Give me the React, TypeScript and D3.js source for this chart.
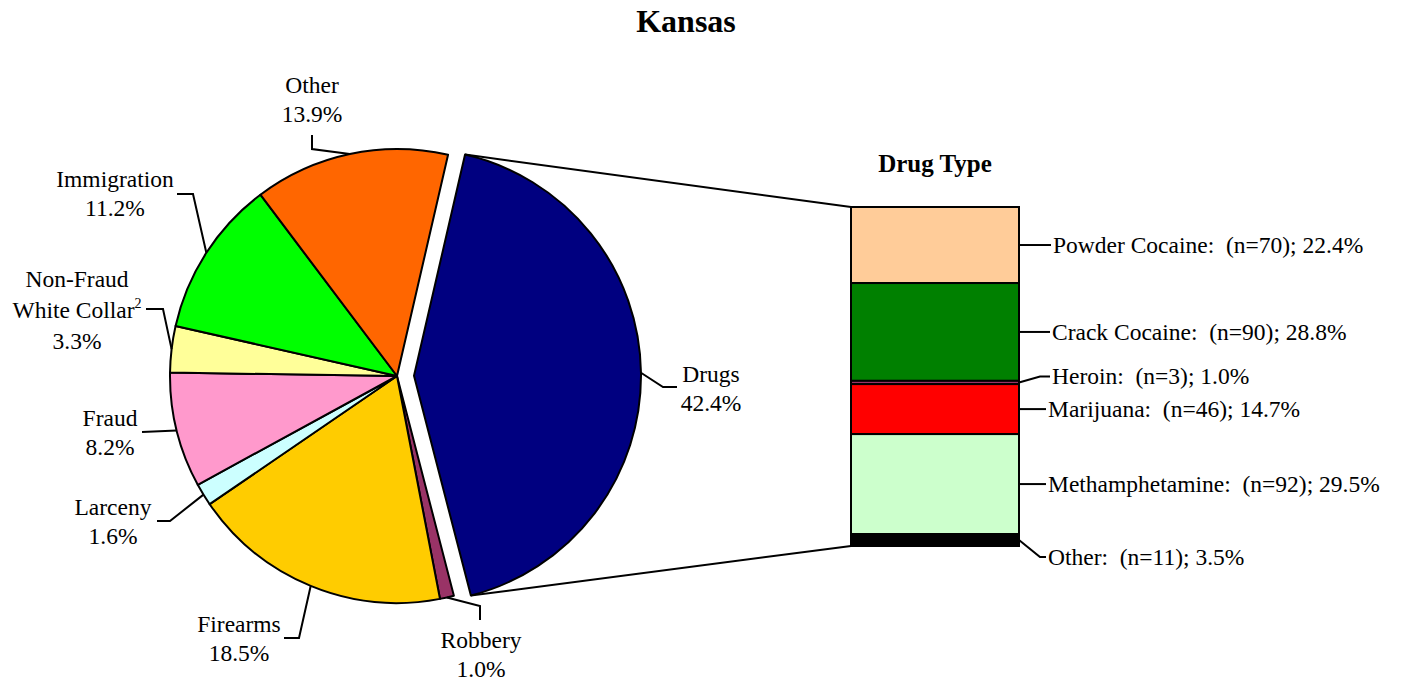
import { arc, pie, scaleLinear } from "d3";

// offense categories (pie), clockwise from the exploded slice
const categories = [
  "Drugs",
  "Robbery",
  "Firearms",
  "Larceny",
  "Fraud",
  "Non-Fraud|White Collar",
  "Immigration",
  "Other",
];
const percents = [42.4, 1.0, 18.5, 1.6, 8.2, 3.3, 11.2, 13.9];
const footnotes = ["", "", "", "", "", "2", "", ""];
const pieColors = ["#000080", "#993366", "#FFCC00", "#CCFFFF", "#FF99CC", "#FFFF99", "#00FF00", "#FF6600"];

// drug types (stacked bar), top to bottom
const drugTypes = ["Powder Cocaine", "Crack Cocaine", "Heroin", "Marijuana", "Methamphetamine", "Other"];
const drugCounts = [70, 90, 3, 46, 92, 11];
const drugPercents = [22.4, 28.8, 1.0, 14.7, 29.5, 3.5];
const drugColors = ["#FFCC99", "#008000", "#993366", "#FF0000", "#CCFFCC", "#000000"];

const FONT = "'Liberation Serif', 'Times New Roman', serif";
const W = 1405;
const H = 682;
const FS = 23.5;

// pie geometry
const cx = 397;
const cy = 376;
const R = 227;
const explode = 17;
const start = (13 * Math.PI) / 180;

// label placement for each pie slice (first baseline + leader elbow points)
const pieLabelLayout = [
  { x: 711, y: 382, pts: [[663, 387], [677, 387]] },
  { x: 481, y: 648, pts: [[480, 606], [480, 620]] },
  { x: 239, y: 632, pts: [[299, 638], [284, 638]] },
  { x: 113, y: 515, pts: [[170, 521], [157, 521]] },
  { x: 110, y: 426, pts: [[142, 432]] },
  { x: 77, y: 287, pts: [[163, 309], [146, 309]] },
  { x: 115, y: 187, pts: [[193, 194], [177, 194]] },
  { x: 312, y: 93, pts: [[312, 149], [312, 135]] },
];

// bar geometry
const barX0 = 851;
const barX1 = 1019;
const barY0 = 207;
const barY1 = 546;
const barLabelX = [1053, 1052, 1052, 1048, 1048, 1048];
const barLabelShift = [0, 0, -6, 0, 0, 17];

export default function App() {
  const arcs = pie<number>()
    .sort(null)
    .value((d) => d)
    .startAngle(start)
    .endAngle(start + 2 * Math.PI)(percents);

  const arcGen = arc<any>().innerRadius(0).outerRadius(R);

  const offset = (a: any, dist: number) => {
    const mid = (a.startAngle + a.endAngle) / 2;
    return [Math.sin(mid) * dist, -Math.cos(mid) * dist];
  };
  const onArc = (ang: number, ox = 0, oy = 0) => [cx + ox + Math.sin(ang) * R, cy + oy - Math.cos(ang) * R];

  const drugArc = arcs[0];
  const [dox, doy] = offset(drugArc, explode);
  const drugTop = onArc(drugArc.startAngle, dox, doy);
  const drugBot = onArc(drugArc.endAngle, dox, doy);

  const total = drugCounts.reduce((s, v) => s + v, 0);
  const y = scaleLinear().domain([0, total]).range([barY0, barY1]);
  let cum = 0;
  const segs = drugCounts.map((n, i) => {
    const s = { i, y0: y(cum), y1: y(cum + n) };
    cum += n;
    return s;
  });

  return (
    <svg width={W} height={H} style={{ position: "absolute", left: 0, top: 0 }} fontFamily={FONT}>
      <rect width={W} height={H} fill="#fff" />
      <text x={686} y={32} textAnchor="middle" fontSize={32} fontWeight="bold">
        Kansas
      </text>

      {/* pie slices */}
      {arcs.map((a, i) => {
        const [ox, oy] = i === 0 ? [dox, doy] : [0, 0];
        return (
          <path
            key={i}
            d={arcGen(a) as string}
            transform={`translate(${cx + ox},${cy + oy})`}
            fill={pieColors[i]}
            stroke="#000"
            strokeWidth={2}
            strokeLinejoin="round"
          />
        );
      })}

      {/* pie leaders and labels */}
      {arcs.map((a, i) => {
        const [ox, oy] = i === 0 ? [dox, doy] : [0, 0];
        const mid = (a.startAngle + a.endAngle) / 2;
        const p0 = onArc(mid, ox, oy);
        const L = pieLabelLayout[i];
        const pts = [p0, ...L.pts];
        const lines = [...categories[i].split("|"), `${percents[i].toFixed(1)}%`];
        const gap = lines.length > 2 ? 31 : 29;
        return (
          <g key={i}>
            <polyline points={pts.map((p) => p.join(",")).join(" ")} fill="none" stroke="#000" strokeWidth={2} />
            <text textAnchor="middle" fontSize={FS}>
              {lines.map((t, k) => (
                <tspan key={k} x={L.x} y={L.y + k * gap}>
                  {t}
                  {k === lines.length - 2 && footnotes[i] ? (
                    <tspan fontSize={14} dy={-10}>
                      {footnotes[i]}
                    </tspan>
                  ) : null}
                </tspan>
              ))}
            </text>
          </g>
        );
      })}

      {/* connectors from drug slice to bar */}
      <line x1={drugTop[0]} y1={drugTop[1]} x2={barX0} y2={barY0} stroke="#000" strokeWidth={2} />
      <line x1={drugBot[0]} y1={drugBot[1]} x2={barX0} y2={barY1} stroke="#000" strokeWidth={2} />

      <text x={935} y={172} textAnchor="middle" fontSize={25} fontWeight="bold">
        Drug Type
      </text>

      {segs.map((s) => (
        <rect
          key={s.i}
          x={barX0}
          y={s.y0}
          width={barX1 - barX0}
          height={s.y1 - s.y0}
          fill={drugColors[s.i]}
          stroke="#000"
          strokeWidth={2}
        />
      ))}

      {segs.map((s) => {
        const m = (s.y0 + s.y1) / 2;
        const ly = m + barLabelShift[s.i];
        const lx = barLabelX[s.i];
        return (
          <g key={s.i}>
            <polyline
              points={`${barX1},${m} ${barX1 + 21},${ly} ${lx - 2},${ly}`}
              fill="none"
              stroke="#000"
              strokeWidth={2}
            />
            <text x={lx} y={ly + 8} fontSize={FS} style={{ whiteSpace: "pre" }}>
              {`${drugTypes[s.i]}:  (n=${drugCounts[s.i]}); ${drugPercents[s.i].toFixed(1)}%`}
            </text>
          </g>
        );
      })}
    </svg>
  );
}
